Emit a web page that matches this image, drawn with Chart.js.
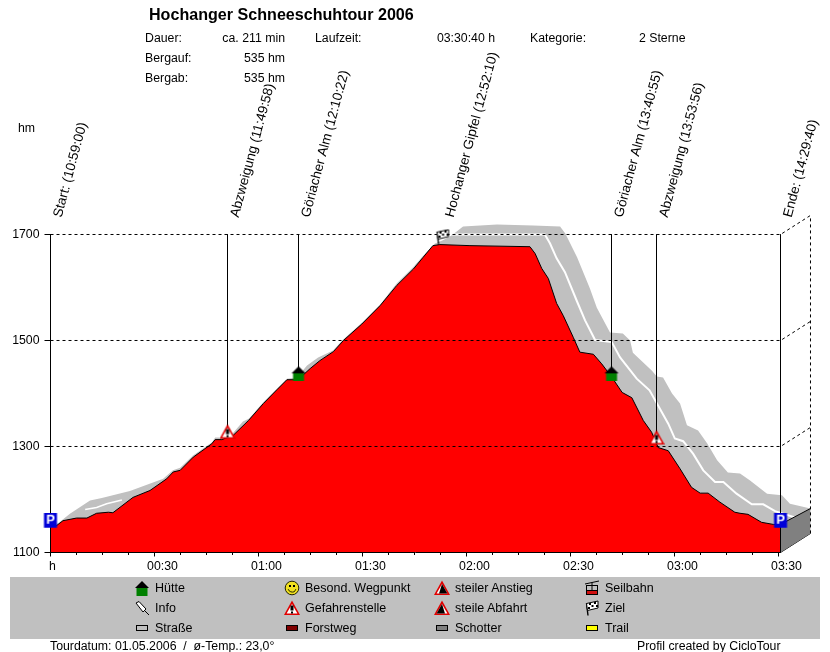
<!DOCTYPE html>
<html>
<head>
<meta charset="utf-8">
<title>Hochanger Schneeschuhtour 2006</title>
<script src="https://cdn.jsdelivr.net/npm/chart.js@4/dist/chart.umd.min.js"></script>
<style>
html, body { margin: 0; padding: 0; background: #fff; }
#page { position: relative; width: 830px; height: 652px; overflow: hidden; font: 12.3px "Liberation Sans", Arial, sans-serif; color: #000; }
#page canvas.main { position: absolute; left: 0; top: 0; }
.t { position: absolute; white-space: pre; line-height: 14px; }
#legendBox { position: absolute; left: 10px; top: 577px; width: 810px; height: 62px; background: #c0c0c0; }
.icon { position: absolute; }
</style>
</head>
<body>
<div id="page">
  <div id="legendBox"></div>
  <canvas class="main" id="profile" width="830" height="652"></canvas>
</div>
<script>
// elevation profile, minutes since start / metres
const profileMinutes = [0, 1.8, 3.6, 7.5, 10.5, 13.3, 16.7, 18, 23.8, 28.7,
    33.5, 35.4, 37.4, 41.2, 46.5, 47.5, 49.4, 52.7, 57.1, 61.4,
    65.3, 68.2, 71.4, 74.9, 77.7, 81.6, 84.5, 89.8, 95.1, 99.9,
    104.7, 107.5, 110.3, 112.3, 121, 138.3, 139.8, 141.7, 143.6, 146,
    147.9, 150.8, 152.7, 156.6, 159, 162, 164.9, 167.7, 171, 173.4,
    175.3, 178.2, 181.6, 184.9, 187.4, 189.7, 193.1, 197.4, 198.9, 201.2,
    205.1, 208.5, 210.58];
const profileHeights = [1149, 1151, 1160, 1165, 1165, 1174, 1176, 1175, 1204, 1217,
    1239, 1252, 1255, 1280, 1305, 1313, 1313, 1321, 1349, 1381,
    1407, 1426, 1426, 1447, 1462, 1479, 1500, 1531, 1566, 1604,
    1635, 1657, 1679, 1681, 1679, 1677, 1664, 1636, 1617, 1570,
    1547, 1506, 1478, 1474, 1456, 1430, 1402, 1392, 1349, 1327,
    1298, 1292, 1258, 1223, 1212, 1212, 1195, 1176, 1174, 1172,
    1157, 1153, 1153];

// upper edge of the grey road ribbon behind the profile
const ribbonMinutes = [0, 2.2, 5.6, 11.4, 14.8, 22.9, 32.5, 35.3, 37.4, 41.1,
    46.6, 47.5, 49.5, 52.6, 55.5, 57.3, 61.3, 65.3, 68.2, 71.1,
    74, 77.2, 81.5, 84.4, 89.9, 95.1, 99.9, 104.6, 107.5, 110.9,
    113.2, 115.7, 119, 128.8, 139.2, 147, 148.5, 151.9, 155.6, 157.6,
    161.4, 165.1, 167.2, 168, 173.5, 174.9, 176.7, 179.3, 181.6, 183.6,
    186.8, 189.4, 192.3, 195.4, 198.9, 201.8, 206.7, 211, 213.3, 219.23];
const ribbonHeights = [1151, 1155, 1173, 1198, 1203, 1216, 1239, 1255, 1260, 1283,
    1308, 1317, 1317, 1325, 1347, 1353, 1383, 1409, 1428, 1430,
    1453, 1468, 1481, 1502, 1534, 1568, 1608, 1638, 1660, 1683,
    1689, 1698, 1715, 1719, 1717, 1715, 1702, 1657, 1598, 1562,
    1515, 1513, 1500, 1477, 1443, 1432, 1430, 1400, 1381, 1340,
    1330, 1306, 1274, 1251, 1249, 1236, 1211, 1208, 1192, 1183];

// white centre line of the ribbon, two visible pieces
const roadUpMinutes = [10, 13.3, 16.2, 20.6];
const roadUpHeights = [1181, 1185, 1192, 1199];
const roadDownMinutes = [115.8, 142.6, 144.1, 146, 148.4, 151.8, 154.2, 157.1, 161.9, 164.3,
    169.1, 172.8, 175.3, 178.2, 180.1, 182.5, 185.4, 188.3, 191.7, 194.1,
    197.9, 202.3, 205.6, 209, 214.8];
const roadDownHeights = [1700, 1700, 1683, 1655, 1629, 1575, 1538, 1501, 1497, 1468,
    1428, 1406, 1377, 1343, 1315, 1310, 1286, 1255, 1233, 1233,
    1211, 1191, 1191, 1178, 1166];

// waypoints
const waypointNames = ["Start: (10:59:00)", "Abzweigung (11:49:58)", "Göriacher Alm (12:10:22)", "Hochanger Gipfel (12:52:10)",
    "Göriacher Alm (13:40:55)", "Abzweigung (13:53:56)", "Ende: (14:29:40)"];
const waypointMinutes = [0, 51.06, 71.54, 113.08, 161.83, 174.81, 210.58];
const waypointHeights = [1160, 1328, 1438, 1696, 1438, 1317, 1160];
const waypointLineEnds = [1100, 1328, 1438, 1696, 1438, 1317, 1100];
const waypointIcons = ["parking", "danger", "hut", "flag", "hut", "danger", "parking"];

// axes
const yTicks = [1100, 1300, 1500, 1700];
const gridLevels = [1300, 1500, 1700];
const xMajorTicks = [0, 30, 60, 90, 120, 150, 180, 210];
const xTickLabels = ["", "00:30", "01:00", "01:30", "02:00", "02:30", "03:00", "03:30"];
const xMinorTicks = [7.5, 15, 22.5, 37.5, 45, 52.5, 67.5, 75, 82.5, 97.5, 105, 112.5,
    127.5, 135, 142.5, 157.5, 165, 172.5, 187.5, 195, 202.5];

// depth of the fake 3d box, in axis units
const endMinute = 210.58;
const backMinute = 219.23;
const depthRise = 36;
const sideTop = 1153;
const sideBack = 1183;

// header, legend, footer
const titleText = "Hochanger Schneeschuhtour 2006";
const infoLabels = ["Dauer:", "Bergauf:", "Bergab:"];
const infoValues = ["ca. 211 min", "535 hm", "535 hm"];
const legendNames = ["Hütte", "Info", "Straße", "Besond. Wegpunkt", "Gefahrenstelle", "Forstweg",
    "steiler Anstieg", "steile Abfahrt", "Schotter", "Seilbahn", "Ziel", "Trail"];
const legendIcons = ["hut", "info", "road", "smiley", "danger", "forest", "up", "down", "gravel", "cable", "flag", "trail"];

function triangleSign(c, inner) {
    c.fillStyle = "#e00000";
    c.beginPath(); c.moveTo(8, 0.5); c.lineTo(16, 15); c.lineTo(0, 15); c.closePath(); c.fill();
    c.fillStyle = "#fff";
    c.beginPath(); c.moveTo(8, 4); c.lineTo(13.4, 13.5); c.lineTo(2.6, 13.5); c.closePath(); c.fill();
    inner(c);
}

function makeIcon(name) {
    const cv = document.createElement("canvas");
    cv.width = 16;
    cv.height = 16;
    const c = cv.getContext("2d");
    if (name === "hut") {
        c.fillStyle = "#008000";
        c.fillRect(2.5, 8, 11, 8);
        c.fillStyle = "#000";
        c.beginPath(); c.moveTo(8, 1); c.lineTo(15, 8); c.lineTo(1, 8); c.closePath(); c.fill();
    } else if (name === "parking") {
        c.fillStyle = "#0000d8";
        c.fillRect(1.5, 0, 13, 15);
        c.fillStyle = "#fff";
        c.font = "bold 13px 'Liberation Sans'";
        c.textAlign = "center";
        c.textBaseline = "middle";
        c.fillText("P", 8, 7);
    } else if (name === "danger") {
        triangleSign(c, function (c) {
            c.fillStyle = "#000";
            c.fillRect(6.5, 5.5, 3, 5);
            c.fillRect(7, 11.5, 2, 2);
        });
    } else if (name === "up" || name === "down") {
        triangleSign(c, function (c) {
            c.fillStyle = "#000";
            c.beginPath();
            if (name === "up") { c.moveTo(5, 13.5); c.lineTo(13.4, 13.5); c.lineTo(8, 4); }
            else { c.moveTo(2.6, 13.5); c.lineTo(11, 13.5); c.lineTo(8, 4); }
            c.closePath();
            c.fill();
        });
    } else if (name === "flag") {
        c.strokeStyle = "#000";
        c.lineWidth = 1.4;
        c.beginPath(); c.moveTo(4, 15.5); c.lineTo(2.5, 3); c.stroke();
        c.fillStyle = "#fff";
        c.beginPath(); c.moveTo(2.5, 3.5); c.lineTo(14, 1); c.lineTo(14, 8); c.lineTo(3.5, 10.5); c.closePath(); c.fill();
        c.strokeStyle = "#000";
        c.lineWidth = 1;
        c.stroke();
        c.fillStyle = "#000";
        c.fillRect(5, 3, 2, 2);
        c.fillRect(10, 2, 2, 2);
        c.fillRect(7.5, 5, 2, 2);
        c.fillRect(12, 5, 2, 2);
        c.fillRect(4, 7, 2, 2);
    } else if (name === "smiley") {
        c.fillStyle = "#f0e020";
        c.strokeStyle = "#202000";
        c.beginPath(); c.arc(8, 8, 6.8, 0, Math.PI * 2); c.fill(); c.stroke();
        c.fillStyle = "#000";
        c.fillRect(5, 5, 2, 2);
        c.fillRect(9, 5, 2, 2);
        c.beginPath(); c.arc(8, 8, 4, 0.3, Math.PI - 0.3); c.stroke();
    } else if (name === "info") {
        c.strokeStyle = "#000";
        c.lineWidth = 1;
        c.fillStyle = "#fff";
        c.beginPath(); c.moveTo(2, 3); c.lineTo(5, 1.5); c.lineTo(12, 9); c.lineTo(9, 12); c.closePath(); c.fill(); c.stroke();
        c.beginPath(); c.moveTo(10.5, 10.5); c.lineTo(15, 15); c.stroke();
    } else if (name === "cable") {
        c.strokeStyle = "#000";
        c.beginPath(); c.moveTo(1, 4); c.lineTo(15, 1); c.moveTo(8, 2.5); c.lineTo(8, 5); c.stroke();
        c.strokeRect(2.5, 5.5, 11, 5);
        c.fillStyle = "#d01010";
        c.fillRect(2, 10, 12, 5);
        c.strokeRect(2.5, 10.5, 11, 4);
        c.beginPath(); c.moveTo(8, 5.5); c.lineTo(8, 10.5); c.stroke();
    } else {
        const swatch = { road: "#c0c0c0", forest: "#800000", gravel: "#808080", trail: "#ffff00" };
        c.fillStyle = swatch[name];
        c.fillRect(2.5, 5.5, 11, 5);
        c.strokeStyle = "#000";
        c.strokeRect(2.5, 5.5, 11, 5);
    }
    return cv;
}

function addText(text, x, y, opts) {
    const el = document.createElement("div");
    el.className = "t";
    el.textContent = text;
    el.style.top = y + "px";
    if (opts && opts.right) { el.style.left = (x - 200) + "px"; el.style.width = "200px"; el.style.textAlign = "right"; }
    else el.style.left = x + "px";
    if (opts && opts.bold) { el.style.fontWeight = "bold"; el.style.fontSize = "16.1px"; el.style.lineHeight = "18px"; }
    if (opts && opts.size) el.style.fontSize = opts.size + "px";
    document.getElementById("page").appendChild(el);
}

addText(titleText, 149, 5, { bold: true });
infoLabels.forEach(function (s, i) { addText(s, 145, 31 + i * 20); });
infoValues.forEach(function (s, i) { addText(s, 285, 31 + i * 20, { right: true }); });
addText("Laufzeit:", 315, 31);
addText("03:30:40 h", 495, 31, { right: true });
addText("Kategorie:", 530, 31);
addText("2 Sterne", 639, 31);
addText("hm", 18, 121);
addText("h", 49, 559);
addText("Tourdatum: 01.05.2006  /  ø-Temp.: 23,0°", 50, 639);
addText("Profil created by CicloTour", 637, 639);

legendNames.forEach(function (name, i) {
    const col = Math.floor(i / 3);
    const row = i % 3;
    const icon = makeIcon(legendIcons[i]);
    icon.className = "icon";
    icon.style.left = (134 + col * 150) + "px";
    icon.style.top = (580 + row * 20) + "px";
    document.getElementById("page").appendChild(icon);
    addText(name, 155 + col * 150, 581 + row * 20, { size: 12.5 });
});

function lineSet(xs, ys, extra) {
    return Object.assign({
        data: xs.map(function (x, i) { return { x: x, y: ys[i] }; }),
        showLine: true,
        pointRadius: 0,
        borderColor: "#000",
        borderWidth: 1,
        tension: 0,
        clip: false
    }, extra);
}

const datasets = [];
// floor under the ribbon so it stops at the bottom edge of the side face
datasets.push(lineSet([0, endMinute, backMinute], [1100, 1100, 1100 + depthRise], { borderWidth: 0, order: 100 }));
datasets.push(lineSet(ribbonMinutes, ribbonHeights, { borderWidth: 0, backgroundColor: "#c0c0c0", fill: 0, order: 90 }));
datasets.push(lineSet(roadUpMinutes, roadUpHeights, { borderColor: "#fff", borderWidth: 1.5, order: 80 }));
datasets.push(lineSet(roadDownMinutes, roadDownHeights, { borderColor: "#fff", borderWidth: 2, order: 80 }));
// side face of the box
const sideBottomIndex = datasets.length;
datasets.push(lineSet([endMinute, backMinute], [1100, 1100 + depthRise], { order: 70 }));
datasets.push(lineSet([endMinute, backMinute], [sideTop, sideBack], { backgroundColor: "#808080", fill: sideBottomIndex, order: 69 }));
// back edge of the box
datasets.push(lineSet([backMinute, backMinute], [1100 + depthRise, 1700 + depthRise], { borderDash: [3, 3], order: 68 }));
datasets.push(lineSet(profileMinutes, profileHeights, { backgroundColor: "#ff0000", fill: "start", order: 60 }));
gridLevels.forEach(function (level) {
    datasets.push(lineSet([0, endMinute, backMinute], [level, level, level + depthRise], { borderDash: [3, 3], order: 50 }));
});
datasets.push(lineSet([0, endMinute], [1100, 1100], { order: 40 }));
waypointMinutes.forEach(function (m, i) {
    datasets.push(lineSet([m, m], [1700, waypointLineEnds[i]], { order: 30 }));
});
datasets.push({
    data: waypointMinutes.map(function (m, i) { return { x: m, y: waypointHeights[i] }; }),
    showLine: false,
    pointStyle: waypointIcons.map(makeIcon),
    pointRadius: 8,
    clip: false,
    order: 10
});

const extras = {
    id: "extras",
    afterDraw: function (chart) {
        const c = chart.ctx;
        const xs = chart.scales.x;
        const bottom = chart.scales.y.getPixelForValue(1100);
        c.save();
        c.strokeStyle = "#000";
        c.lineWidth = 1;
        xMinorTicks.forEach(function (m) {
            const px = Math.floor(xs.getPixelForValue(m)) + 0.5;
            c.beginPath(); c.moveTo(px, bottom); c.lineTo(px, bottom + 2.5); c.stroke();
        });
        c.fillStyle = "#000";
        c.font = "13.5px 'Liberation Sans'";
        c.textAlign = "left";
        c.textBaseline = "alphabetic";
        waypointNames.forEach(function (name, i) {
            c.save();
            c.translate(xs.getPixelForValue(waypointMinutes[i]) + 11, 218);
            c.rotate(-75 * Math.PI / 180);
            c.fillText(name, 0, 0);
            c.restore();
        });
        c.restore();
    }
};

function noPadding(s) {
    s.paddingLeft = 0;
    s.paddingRight = 0;
    s.paddingTop = 0;
    s.paddingBottom = 0;
}

new Chart(document.getElementById("profile"), {
    type: "scatter",
    data: { datasets: datasets },
    plugins: [extras],
    options: {
        responsive: false,
        animation: false,
        devicePixelRatio: 1,
        layout: { padding: { left: 0, top: 200.5, right: 1, bottom: 69.5 } },
        plugins: { legend: { display: false }, tooltip: { enabled: false } },
        events: [],
        scales: {
            x: {
                type: "linear",
                min: 0,
                max: 222.26,
                afterFit: function (s) { s.height = 30; noPadding(s); },
                afterBuildTicks: function (s) { s.ticks = xMajorTicks.map(function (v) { return { value: v }; }); },
                border: { display: false },
                grid: { drawOnChartArea: false, drawTicks: true, tickLength: 4, tickColor: "#000" },
                ticks: {
                    color: "#000",
                    font: { family: "'Liberation Sans'", size: 12.3 },
                    padding: 3,
                    maxRotation: 0,
                    autoSkip: false,
                    labelOffset: 8,
                    callback: function (v) { return xTickLabels[xMajorTicks.indexOf(v)]; }
                }
            },
            y: {
                type: "linear",
                min: 1100,
                max: 1764.15,
                afterFit: function (s) { s.width = 50.5; noPadding(s); },
                afterBuildTicks: function (s) { s.ticks = yTicks.map(function (v) { return { value: v }; }); },
                border: { display: false },
                grid: { drawOnChartArea: false, drawTicks: true, tickLength: 6, tickColor: "#000" },
                ticks: {
                    color: "#000",
                    font: { family: "'Liberation Sans'", size: 12.3 },
                    padding: 5,
                    callback: function (v) { return String(v); }
                }
            }
        }
    }
});
</script>
</body>
</html>
